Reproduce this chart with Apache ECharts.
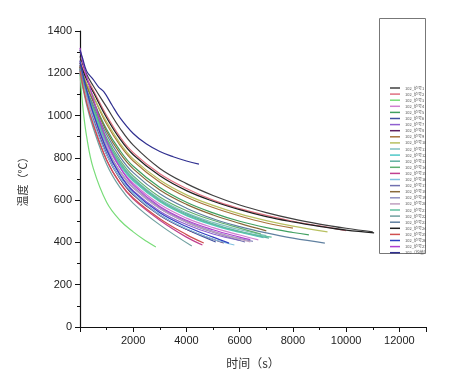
<!DOCTYPE html>
<html><head><meta charset="utf-8">
<script src="https://cdn.jsdelivr.net/npm/echarts@6/dist/echarts.min.js"></script>
<style>html,body{margin:0;padding:0;background:#fff}#c{width:461px;height:377px}</style>
</head><body><div id="c"></div>
<script>
// ---- data ----
const xTicks = [2000, 4000, 6000, 8000, 10000, 12000];
const yTicks = [0, 200, 400, 600, 800, 1000, 1200, 1400];
const seriesNames = [
  '102_炉号1','102_炉号2','102_炉号3','102_炉号4','102_炉号5','102_炉号6','102_炉号7',
  '102_炉号8','102_炉号9','102_炉号10','102_炉号11','102_炉号12','102_炉号13','102_炉号14',
  '102_炉号15','102_炉号16','102_炉号17','102_炉号18','102_炉号19','102_炉号20','102_炉号21',
  '102_炉号22','102_炉号23','102_炉号24','102_炉号25','102_炉号26','102_炉号27','102（均值）'
];
const s1  = [[0,1280],[250,1195],[500,1140],[1000,1040],[1500,940],[2000,860],[3000,750],[4000,678],[5000,622],[6000,577],[7000,541],[8000,511],[9000,487],[10000,467],[11000,450]];
const s2  = [[0,1260],[250,1180],[500,1120],[1000,1000],[1500,900],[2000,825],[3000,725],[4000,655],[5000,600],[6000,560],[7000,528],[8000,500],[9000,478],[10000,456]];
const s3  = [[0,1200],[100,1050],[250,900],[500,750],[1000,590],[1500,505],[2000,450],[2500,405],[2850,378]];
const s4  = [[0,1230],[250,1110],[500,1020],[1000,860],[1500,755],[2000,680],[3000,580],[4000,515],[5000,470],[6000,435],[6700,412]];
const s5  = [[0,1230],[250,1140],[500,1070],[1000,935],[1500,835],[2000,760],[3000,660],[4000,590],[5000,540],[6000,500],[7000,470],[8000,447],[8600,436]];
const s6  = [[0,1240],[250,1100],[500,990],[1000,820],[1500,705],[2000,628],[3000,530],[4000,462],[5100,402]];
const s7  = [[0,1250],[250,1110],[500,1005],[1000,835],[1500,722],[2000,645],[3000,548],[4000,485],[5000,440],[6000,410]];
const s8  = [[0,1230],[250,1090],[500,985],[1000,815],[1500,702],[2000,625],[3000,527],[4000,462],[5000,415],[5400,398]];
const s9  = [[0,1230],[250,1150],[500,1090],[1000,960],[1500,860],[2000,785],[3000,685],[4000,615],[5000,565],[6000,525],[7000,492],[8000,468]];
const s10 = [[0,1240],[250,1150],[500,1090],[1000,970],[1500,870],[2000,795],[3000,695],[4000,625],[5000,575],[6000,535],[7000,503],[8000,477],[9300,450]];
const s11 = [[0,1220],[250,1110],[500,1030],[1000,880],[1500,780],[2000,705],[3000,605],[4000,540],[5000,495],[6000,460],[7000,432]];
const s12 = [[0,1210],[250,1100],[500,1020],[1000,870],[1500,765],[2000,690],[3000,592],[4000,527],[5000,482],[6000,448],[6900,422]];
const s13 = [[0,1220],[250,1115],[500,1035],[1000,885],[1500,778],[2000,700],[3000,600],[4000,535],[5000,488],[6000,452],[7100,420]];
const s14 = [[0,1225],[250,1120],[500,1040],[1000,895],[1500,790],[2000,715],[3000,615],[4000,550],[5000,505],[6000,468],[6800,440]];
const s15 = [[0,1220],[250,1070],[500,960],[1000,790],[1500,680],[2000,605],[3000,505],[4000,425],[4600,388]];
const s16 = [[0,1200],[250,1070],[500,975],[1000,815],[1500,705],[2000,630],[3000,530],[4000,465],[5000,415],[5800,388]];
const s17 = [[0,1240],[250,1110],[500,1010],[1000,845],[1500,735],[2000,658],[3000,560],[4000,495],[5000,448],[6200,402]];
const s18 = [[0,1235],[250,1140],[500,1065],[1000,925],[1500,822],[2000,748],[3000,648],[4000,580],[5000,530],[6000,490],[7000,455]];
const s19 = [[0,1220],[250,1095],[500,1000],[1000,845],[1500,738],[2000,662],[3000,565],[4000,500],[5000,453],[6000,418],[6500,405]];
const s20 = [[0,1200],[250,1080],[500,995],[1000,840],[1500,735],[2000,660],[3000,560],[4000,495],[5000,450],[6000,415],[6400,403]];
const s21 = [[0,1215],[250,1105],[500,1025],[1000,875],[1500,770],[2000,695],[3000,596],[4000,530],[5000,485],[6000,450],[7200,425]];
const s22 = [[0,1200],[250,1050],[500,940],[1000,770],[1500,660],[2000,585],[3000,483],[4200,383]];
const s23 = [[0,1220],[250,1120],[500,1050],[1000,910],[1500,805],[2000,730],[3000,630],[4000,562],[5000,512],[6000,475],[7000,445],[8000,420],[9200,397]];
const s24 = [[0,1250],[250,1170],[500,1110],[1000,990],[1500,890],[2000,815],[3000,715],[4000,645],[5000,595],[6000,555],[7000,522],[8000,497],[9000,476],[10000,458],[11050,445]];
const s25 = [[0,1210],[250,1060],[500,955],[1000,790],[1500,682],[2000,610],[3000,512],[4000,437],[4650,397]];
const s26 = [[0,1260],[250,1120],[500,1010],[1000,840],[1500,720],[2000,640],[3000,540],[4000,475],[5000,425],[5600,397]];
const s27 = [[0,1320],[150,1230],[500,1080],[1000,880],[1500,755],[2000,672],[3000,570],[4000,505],[5000,460],[6000,425],[6400,413]];
const s28 = [[0,1310],[100,1270],[250,1210],[500,1170],[700,1135],[900,1112],[1200,1050],[1500,990],[2000,915],[2500,865],[3000,830],[3500,805],[4000,785],[4470,770]];
const seriesData = [s1,s2,s3,s4,s5,s6,s7,s8,s9,s10,s11,s12,s13,s14,s15,s16,s17,s18,s19,s20,s21,s22,s23,s24,s25,s26,s27,s28];

// ---- styling ----
const colors = ['#404040','#e07080','#78dc78','#d080d0','#40a060','#4050a0','#9060d0','#602060',
  '#a8743c','#b8c060','#80c0c0','#50c8c8','#60b0a0','#60b070','#c04090','#80c0e0','#7070b0',
  '#8a6a3a','#9090c0','#c0a0c0','#60c0a0','#70a0a0','#6080a0','#202020','#d05050','#3040c0','#b040d0','#303090'];

const chart = echarts.init(document.getElementById('c'));
const font = 'Liberation Sans, Arial, sans-serif';
chart.setOption({
  animation: false,
  color: colors,
  grid: {left: 80, right: 35, top: 31, bottom: 50},
  legend: {
    orient: 'vertical', left: 385, top: 81,
    icon: 'rect', itemWidth: 10, itemHeight: 1.5, itemGap: 2.1,
    textStyle: {fontSize: 4, lineHeight: 4, color: '#555', fontFamily: 'Noto Sans CJK SC'},
    data: seriesNames
  },
  graphic: [{type: 'rect', shape: {x: 379.5, y: 18.5, width: 46, height: 235},
    style: {fill: 'none', stroke: '#777', lineWidth: 1}, silent: true}],
  xAxis: {
    type: 'value', min: 0, max: 13000, interval: 2000,
    name: '时间（s）', nameLocation: 'middle', nameGap: 30,
    nameTextStyle: {fontSize: 12, color: '#333', fontFamily: 'Noto Sans CJK SC'},
    axisLine: {lineStyle: {color: '#111', width: 1.2}},
    axisTick: {length: 5, lineStyle: {color: '#111'}},
    minorTick: {show: true, splitNumber: 2, length: 3, lineStyle: {color: '#111'}},
    splitLine: {show: false},
    axisLabel: {fontSize: 11, color: '#222', fontFamily: font, margin: 8,
      formatter: v => xTicks.includes(v) ? String(v) : ''}
  },
  yAxis: {
    type: 'value', min: 0, max: 1400, interval: 200,
    name: '温度（℃）', nameLocation: 'middle', nameGap: 52,
    nameTextStyle: {fontSize: 11, color: '#333', fontFamily: 'Noto Sans CJK SC'},
    axisLine: {show: true, lineStyle: {color: '#111', width: 1.2}},
    axisTick: {show: true, length: 5, lineStyle: {color: '#111'}},
    minorTick: {show: true, splitNumber: 2, length: 3, lineStyle: {color: '#111'}},
    splitLine: {show: false},
    axisLabel: {fontSize: 11, color: '#222', fontFamily: font, margin: 8,
      formatter: v => yTicks.includes(v) ? String(v) : ''}
  },
  series: seriesData.map((d, i) => ({
    name: seriesNames[i], type: 'line', data: d, smooth: 0.4,
    showSymbol: false, symbol: 'none', lineStyle: {width: 1.2}, z: i === 27 ? 5 : 2
  }))
});
</script></body></html>
